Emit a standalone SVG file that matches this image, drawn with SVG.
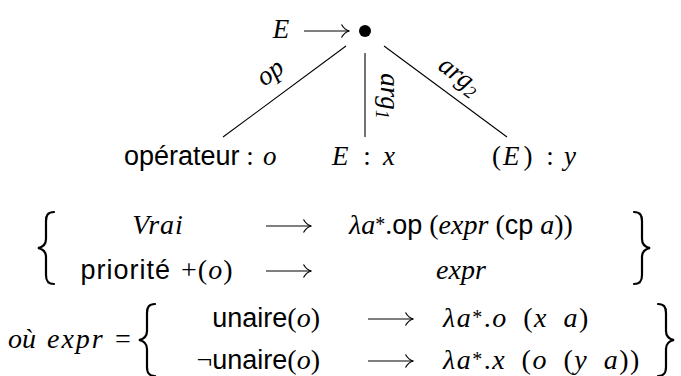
<svg xmlns="http://www.w3.org/2000/svg" xmlns:xlink="http://www.w3.org/1999/xlink" width="681" height="376" viewBox="0 0 681 376">
<style>
text{font-family:"Liberation Serif",serif;font-size:27px;fill:#000}
.mi{font-family:"Liberation Serif",serif;font-style:italic}
.rm{font-family:"Liberation Serif",serif;font-style:normal}
.sf{font-family:"Liberation Sans",sans-serif;font-size:27px;font-style:normal}
.sub{font-size:18px}
.blk{font-size:28px}
.blk .sf{font-size:27px}
.wide{letter-spacing:1.5px;word-spacing:7px}
.edge{stroke:#000;stroke-width:1.1;fill:none}
.arr{stroke:#000;stroke-width:1.2;fill:none}
.brace{stroke:#000;stroke-width:2.2;fill:none;stroke-linecap:round}
</style>
<defs>
<g id="lra"><path class="arr" d="M0,0 H45"/><path class="arr" d="M37.5,-6.5 C39.5,-3 42,-0.8 45.5,0 C42,0.8 39.5,3 37.5,6.5"/></g>
<path id="lbrace" class="brace" d="M16,0 C10,0 8,3 8,9 V27 C8,32 5,35 0,36 C5,37 8,40 8,45 V63 C8,69 10,72 16,72"/>
</defs>

<g id="root">
<text x="281" y="38" text-anchor="middle" class="mi">E</text>
<use xlink:href="#lra" x="304" y="31"/>
<circle cx="365" cy="31" r="6" fill="#000"/>
</g>

<g id="connectors">
<line class="edge" x1="346" y1="46" x2="223" y2="137"/>
<line class="edge" x1="365" y1="53" x2="365" y2="137"/>
<line class="edge" x1="384" y1="46" x2="507" y2="137"/>
<text transform="translate(275,79) rotate(-36.5)" text-anchor="middle" class="mi">op</text>
<text transform="translate(381,96) rotate(90)" text-anchor="middle" class="mi">arg<tspan class="sub" dy="5">1</tspan></text>
<text transform="translate(455,82) rotate(36.5)" text-anchor="middle" class="mi">arg<tspan class="sub" dy="5">2</tspan></text>
</g>

<g id="node-op">
<text x="124" y="165" class="sf">opérateur</text>
<text x="250" y="165" text-anchor="middle" class="rm">:</text>
<text x="263" y="165" class="mi">o</text>
</g>
<g id="node-x">
<text x="332" y="165" class="mi">E</text>
<text x="367" y="165" text-anchor="middle" class="rm">:</text>
<text x="383" y="165" class="mi">x</text>
</g>
<g id="node-y">
<text x="492" y="165" class="rm">(<tspan class="mi" dx="2">E</tspan><tspan dx="4">)</tspan></text>
<text x="550" y="165" text-anchor="middle" class="rm">:</text>
<text x="564" y="165" class="mi">y</text>
</g>

<g id="rules" class="blk">
<use xlink:href="#lbrace" x="38" y="212"/>
<text x="158" y="234" text-anchor="middle" class="mi blk" letter-spacing="1">Vrai</text>
<use xlink:href="#lra" x="266" y="226"/>
<text x="461" y="234" text-anchor="middle" class="rm blk"><tspan class="mi">λa</tspan><tspan font-size="20" dy="-3">*</tspan><tspan dy="3">.</tspan><tspan class="sf">op</tspan> (<tspan class="mi">expr</tspan> (<tspan class="sf">cp</tspan> <tspan class="mi">a</tspan>))</text>
<text x="157" y="279" text-anchor="middle" class="blk" letter-spacing="1" word-spacing="2"><tspan class="sf">priorité</tspan> <tspan class="rm">+(</tspan><tspan class="mi">o</tspan><tspan class="rm">)</tspan></text>
<use xlink:href="#lra" x="266" y="271"/>
<text x="461" y="279" text-anchor="middle" class="mi blk">expr</text>
<use xlink:href="#lbrace" transform="translate(650,212) scale(-1,1)"/>
</g>

<g id="where" class="blk">
<text x="8" y="348" class="mi blk">où</text>
<text x="47" y="348" class="mi blk" letter-spacing="2">expr</text>
<text x="115" y="348" class="rm blk">=</text>
<use xlink:href="#lbrace" x="139" y="304"/>
<text x="320" y="327" text-anchor="end" class="blk"><tspan class="sf">unaire</tspan><tspan class="rm">(</tspan><tspan class="mi">o</tspan><tspan class="rm">)</tspan></text>
<use xlink:href="#lra" x="368" y="319"/>
<text x="443" y="327" class="rm blk wide"><tspan class="mi">λa</tspan><tspan font-size="20" dy="-3">*</tspan><tspan dy="3">.</tspan><tspan class="mi">o</tspan> (<tspan class="mi">x</tspan> <tspan class="mi">a</tspan>)</text>
<text x="320" y="369" text-anchor="end" class="blk"><tspan class="rm">¬</tspan><tspan class="sf">unaire</tspan><tspan class="rm">(</tspan><tspan class="mi">o</tspan><tspan class="rm">)</tspan></text>
<use xlink:href="#lra" x="368" y="361"/>
<text x="443" y="369" class="rm blk wide"><tspan class="mi">λa</tspan><tspan font-size="20" dy="-3">*</tspan><tspan dy="3">.</tspan><tspan class="mi">x</tspan> (<tspan class="mi">o</tspan> (<tspan class="mi">y</tspan> <tspan class="mi">a</tspan>))</text>
<use xlink:href="#lbrace" transform="translate(674,304) scale(-1,1)"/>
</g>
</svg>
